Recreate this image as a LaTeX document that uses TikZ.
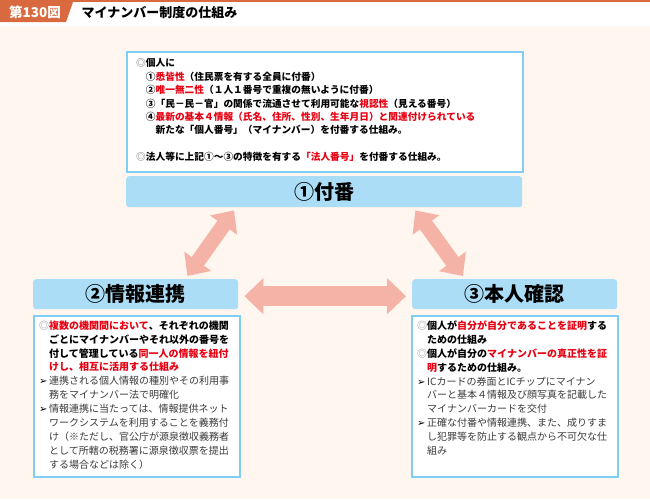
\documentclass[tikz,border=0pt]{standalone}
\usepackage{fontspec}
\setmainfont{Noto Sans CJK JP}
\newfontfamily\symfont{DejaVu Sans}
\usetikzlibrary{arrows.meta}

\definecolor{tagorange}{HTML}{D9693F}
\definecolor{bgcream}{HTML}{FEF6EF}
\definecolor{boxblue}{HTML}{7FCEF3}
\definecolor{barblue}{HTML}{ABDDF6}
\definecolor{arrowpink}{HTML}{F5B3A8}
\definecolor{hlred}{HTML}{E60012}
\definecolor{txtgray}{HTML}{3A3A3A}
\definecolor{markgray}{HTML}{8A8A8A}

\newcommand{\hl}[1]{\textcolor{hlred}{#1}}
\newcommand{\mk}{\textcolor{markgray}{◎}}
\newcommand{\tri}{\makebox[1em][l]{\symfont\fontsize{10}{10}\selectfont ➢}}
\newcommand{\ind}{\hspace*{1em}}
\newcommand{\gr}[1]{\textcolor{txtgray}{#1}}

\begin{document}
\begin{tikzpicture}[x=1pt,y=-1pt]
		\tikzstyle{infobox}=[draw=boxblue,line width=1.5pt,fill=white,anchor=north west,inner sep=0pt]
		\tikzstyle{bar}=[fill=barblue,rounded corners=3pt,anchor=north west,font=\fontsize{20}{24}\selectfont\bfseries]
		\tikzstyle{txt}=[anchor=north west,inner sep=0pt,align=left]
		\tikzstyle{link}=[draw=arrowpink,line width=20pt,{Triangle[length=19pt,width=35pt]}-{Triangle[length=19pt,width=35pt]}]
		\tikzstyle{diag}=[draw=arrowpink,line width=15pt,{Triangle[length=18pt,width=32pt]}-{Triangle[length=18pt,width=32pt]}]

		\useasboundingbox (0,0) rectangle (650,499);
		\fill[white] (0,0) rectangle (650,26);
		\fill[bgcream] (0,26) rectangle (650,499);
		\fill[tagorange] (0,0) rectangle (650,2);
		\fill[tagorange] (0,2) -- (73,2) -- (66,22) -- (0,22) -- cycle;
		\node[font=\fontsize{13.5}{13.5}\selectfont\bfseries,text=white] (tag) at (35,12.5){第130図};
		\node[anchor=west,font=\fontsize{13}{13}\selectfont\bfseries] (title) at (78,12.5){マイナンバー制度の仕組み};

		\node[infobox,minimum width=396pt,minimum height=120pt] (fubanbox) at (126,51){};
		\node[infobox,minimum width=206pt,minimum height=161pt] (renkeibox) at (33,315){};
		\node[infobox,minimum width=206pt,minimum height=161pt] (kakuninbox) at (411,315){};

		\node[bar,minimum width=396pt,minimum height=31pt] (bar1) at (126,176){①付番};
		\node[bar,minimum width=205pt,minimum height=30pt] (bar2) at (33,279){②情報連携};
		\node[bar,minimum width=205pt,minimum height=30pt] (bar3) at (412,279){③本人確認};

		\node[txt,font=\fontsize{9.7}{13.4}\selectfont\bfseries] (fubantxt) at (136,58.5){%
			\mk 個人に\\
			\ind ①\hl{悉皆性}（住民票を有する全員に付番）\\
			\ind ②\hl{唯一無二性}（１人１番号で重複の無いように付番）\\
			\ind ③「民－民－官」の関係で流通させて利用可能な\hl{視認性}（見える番号）\\
			\ind ④\hl{最新の基本４情報（氏名、住所、性別、生年月日）と関連付けられている}\\
			\ind\ind 新たな「個人番号」（マイナンバー）を付番する仕組み。\\[13.4pt]
			\mk 法人等に上記①～③の特徴を有する\hl{「法人番号」}を付番する仕組み。};

		\node[txt,font=\fontsize{10}{13.9}\selectfont] (renkeitxt) at (39,320.5){%
			\mk\textbf{\hl{複数の機関間において}、それぞれの機関}\\
			\ind\textbf{ごとにマイナンバーやそれ以外の番号を}\\
			\ind\textbf{付して管理している\hl{同一人の情報を紐付}}\\
			\ind\textbf{\hl{けし、相互に活用する仕組み}}\\
			\tri\gr{連携される個人情報の種別やその利用事}\\
			\ind\gr{務をマイナンバー法で明確化}\\
			\tri\gr{情報連携に当たっては、情報提供ネット}\\
			\ind\gr{ワークシステムを利用することを義務付}\\
			\ind\gr{け（※ただし、官公庁が源泉徴収義務者}\\
			\ind\gr{として所轄の税務署に源泉徴収票を提出}\\
			\ind\gr{する場合などは除く）}};

		\node[txt,font=\fontsize{10}{13.9}\selectfont] (kakunintxt) at (417,320.5){%
			\mk\textbf{個人が\hl{自分が自分であることを証明}する}\\
			\ind\textbf{ための仕組み}\\
			\mk\textbf{個人が自分の\hl{マイナンバーの真正性を証}}\\
			\ind\textbf{\hl{明}するための仕組み。}\\
			\tri\gr{ICカードの券面とICチップにマイナン}\\
			\ind\gr{バーと基本４情報及び顔写真を記載した}\\
			\ind\gr{マイナンバーカードを交付}\\
			\tri\gr{正確な付番や情報連携、また、成りすま}\\
			\ind\gr{し犯罪等を防止する観点から不可欠な仕}\\
			\ind\gr{組み}};

		\draw[diag] ([shift={(108pt,-3pt)}]bar1.south west) -- ([shift={(-51pt,3pt)}]bar2.north east);
		\draw[diag] ([shift={(-107pt,-3pt)}]bar1.south east) -- ([shift={(51pt,3pt)}]bar3.north west);
		\draw[link] ([shift={(6pt,-2pt)}]bar2.east) -- ([shift={(-6pt,-2pt)}]bar3.west);
	\end{tikzpicture}
\end{document}
